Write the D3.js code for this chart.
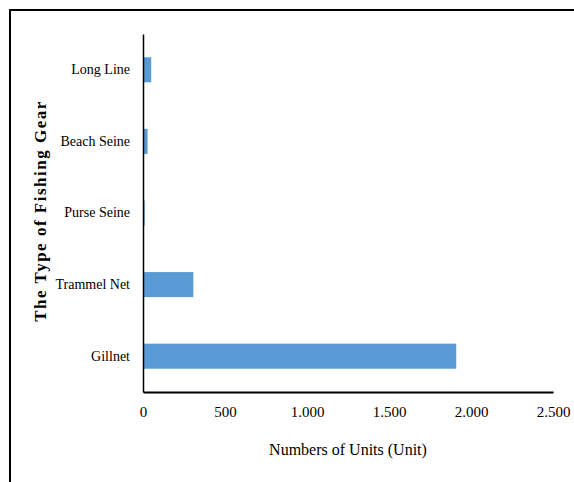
<!DOCTYPE html>
<html><head><meta charset="utf-8">
<script src="https://cdn.jsdelivr.net/npm/d3@7"></script>
<style>body{margin:0;background:#fff;} svg{display:block;}</style>
</head><body>
<svg id="c" width="574" height="482"></svg>
<script>
const categories = ["Long Line","Beach Seine","Purse Seine","Trammel Net","Gillnet"];
const values = [50, 28, 10, 307, 1910];
const tickValues = [0, 500, 1000, 1500, 2000, 2500];
const tickLabels = ["0","500","1.000","1.500","2.000","2.500"];

const svg = d3.select("#c");
const font = "'Liberation Serif','Times New Roman',serif";
svg.append("rect").attr("x",10).attr("y",10).attr("width",600).attr("height",500)
  .attr("fill","none").attr("stroke","#000").attr("stroke-width",2);

const x = d3.scaleLinear().domain([0,2500]).range([143,553]);
const y = d3.scaleBand().domain(categories).range([34,392]).paddingInner(0.65).paddingOuter(0.325);

svg.selectAll("rect.bar").data(categories).join("rect").attr("class","bar")
  .attr("x",x(0)).attr("y",d=>y(d)).attr("height",y.bandwidth())
  .attr("width",(d,i)=>x(values[i])-x(0)).attr("fill","#5B9BD5");

// y axis
const ya = svg.append("g").attr("transform",`translate(${x(0)},0)`)
  .call(d3.axisLeft(y).tickSize(0).tickPadding(13));
ya.select(".domain").attr("stroke","#000").attr("stroke-width",1.5);
ya.selectAll("text").attr("font-family",font).attr("font-size",14).attr("fill","#000");

// x axis
const xa = svg.append("g").attr("transform","translate(0,392)")
  .call(d3.axisBottom(x).tickValues(tickValues).tickFormat((d,i)=>tickLabels[i]).tickSize(0).tickPadding(14));
xa.select(".domain").attr("stroke","#000").attr("stroke-width",2);
xa.selectAll("text").attr("font-family",font).attr("font-size",15).attr("fill","#000");

svg.append("text").attr("x",348).attr("y",455).attr("text-anchor","middle")
  .attr("font-family",font).attr("font-size",16).text("Numbers of Units (Unit)");
svg.append("text").attr("transform","translate(46,211) rotate(-90)").attr("text-anchor","middle")
  .attr("font-family",font).attr("font-size",17).attr("font-weight","bold").attr("letter-spacing",1.5)
  .text("The Type of Fishing Gear");
</script>
</body></html>
